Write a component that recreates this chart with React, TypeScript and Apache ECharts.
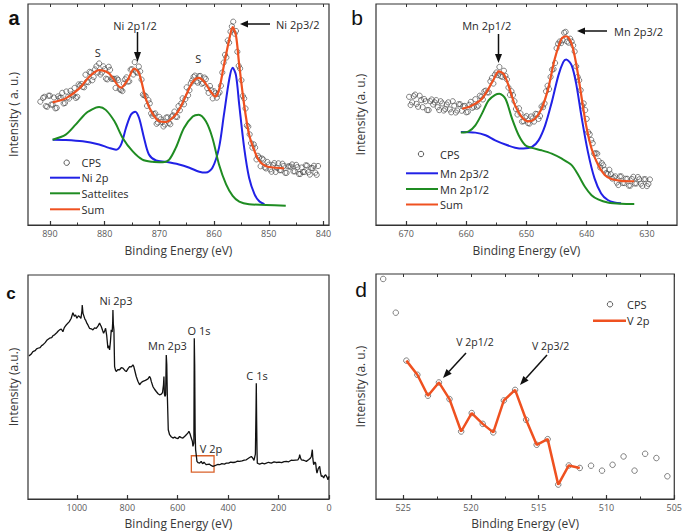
import { useEffect, useRef } from "react";
import * as echarts from "echarts";

const FONT = "'Open Sans', 'DejaVu Sans', sans-serif";
const LETTER_FONT = "'Liberation Sans', Arial, sans-serif";
const AXIS = "#333333";
const TICK_LABEL = "#5a5a5a";
const TXT = "#2a2a2a";
const BLUE = "#2121e6";
const GREEN = "#1f8c22";
const ORANGE = "#ef5120";
const CIRCLE = "#474747";

// ---------------- Panel a : Ni 2p ----------------
const aCpsE = [891,890.5,890,889.5,889,888.5,888,887.5,887,886.5,886,885.5,885,884.5,884,883.5,883,882.5,882,881.5,881,880.5,880,879.5,879,878.5,878,877.5,877,876.5,876,875.5,875,874.5,874,873.5,873,872.5,872,871.5,871,870.5,870,869.5,869,868.5,868,867.5,867,866.5,866,865.5,865,864.5,864,863.5,863,862.5,862,861.5,861,860.5,860,859.5,859,858.5,858,857.5,857,856.5,856,855.5,855,854.5,854,853.5,853,852.5,852,851.5,851,850.5,850,849.5,849,848.5,848,847.5,847,846.5,846,845.5,845,844.5,844,843.5,843,842.5,842,841.5,841];
const aCpsV = [58,53.5,58.5,54.5,52.8,58.2,57.6,55,60.4,57.2,59.1,62,58,63.1,62.5,68,64.6,69,67,71.8,73.1,69,70.5,65.9,70.2,66.2,62,65.6,61.1,64,66.8,65,70.5,73.7,68.9,69.5,59,58.3,56.5,50.5,50.2,45.8,48.9,46.6,45.5,48.7,45.6,49.6,49,53.8,55,54.6,62.3,61,65.4,67.6,64.4,67.4,64.3,66,59.8,61,60.5,57.6,60,69,77,83.5,87.5,92,87.8,72,65.5,57.3,45,41,35,35,31.3,26.6,29.6,25.6,27.3,24.1,28,25.9,24.8,27.7,23.6,26.5,26.4,24.3,27.2,23.1,26,24,26.9,22.8,25.8,23.7,26.7];
const aCps2E = [891.75,891.25,890.75,890.25,889.75,889.25,888.75,888.25,887.75,887.25,886.75,886.25,885.75,885.25,884.75,884.25,883.75,883.25,882.75,882.25,881.75,881.25,880.75,880.25,879.75,879.25,878.75,878.25,877.75,877.25,876.75,876.25,875.75,875.25,874.75,874.25,873.75,873.25,872.75,872.25,871.75,871.25,870.75,870.25,869.75,869.25,868.75,868.25,867.75,867.25,866.75,866.25,865.75,865.25,864.75,864.25,863.75,863.25,862.75,862.25,861.75,861.25,860.75,860.25,859.75,859.25,858.75,858.25,857.75,857.25,856.75,856.25,855.75,855.25,854.75,854.25,853.75,853.25,852.75,852.25,851.75,851.25,850.75,850.25,849.75,849.25,848.75,848.25,847.75,847.25,846.75,846.25,845.75,845.25,844.75,844.25,843.75,843.25,842.75,842.25,841.75,841.25];
const aCps2V = [55.8,57.5,53.8,58.5,54.5,57.7,53,57.4,59.8,55.2,57.8,60.7,58.6,57.5,63.6,63.8,62.3,64.8,69.3,65.5,70.4,69,68.1,71.8,66.2,71.6,66.2,66.1,66.3,61.4,60.6,65.9,64.9,70.3,68.1,69.3,71.7,65.8,58.7,53.9,55,49.4,50.5,46.4,47.8,44.6,48.6,46.2,49.1,51.3,48.9,51.9,57.3,57,58.7,64.2,67,65,67.4,63.9,66.7,61.9,62.9,57.3,59.6,59.3,63,73.5,75.8,82.5,89.9,86.6,78.4,70.8,58.4,52.7,44.5,37,36.5,29.7,30.5,30.1,26.1,28.5,25.2,27.1,24,27.9,24.8,26.7,23.6,26.5,27.4,24.3,26.2,23.1,24,27,23.9,25.8,26.8,22.7];
const aNiE = [889.5,887.1,884,881,879.2,877.9,877,876.1,875.2,874.4,873.7,872.8,871.9,870.6,868.8,866.4,864.5,862.7,861.5,860.3,859.1,858.2,857.2,856.6,856,855.4,854.5,853.6,852.6,851.7,850.8];
const aNiV = [38.6,38.5,37.9,36.4,34.9,34.1,36.4,43.9,49.9,51.3,48.4,39.4,31.9,29.2,28.6,27.4,25.9,24.1,23.7,25.9,34.9,49.9,66.3,71.1,67.8,54.3,34.9,21.4,13.9,10.6,9.4];
const aSatE = [889.5,887.1,885.3,883.4,881.6,881,879.8,878.2,876.7,874.9,873.1,871.3,869.4,868.2,867,865.5,863.9,862.8,861.5,860.3,859.1,857.8,856.6,855.4,853.6,850.5,846.9];
const aSatV = [38.6,40.9,45.4,50.6,53.1,53.4,52.1,46.9,39.4,33.4,29.6,28.6,28.4,29.6,34.9,43.9,49.1,49.9,46.9,39.4,27.4,18.4,13.2,10.6,9.4,9.1,8.7];
const aSumE = [889.5,887.1,884.6,882.8,881,879.2,877,875.8,874.6,873.7,872.5,871.3,870,868.8,867.6,866.4,865.1,863.9,862.8,861.8,860.6,859.8,859.1,858.2,857.2,856.6,856,855.4,854.5,853.6,852.6,851.7,850.5,848.7,847.2];
const aSumV = [55.5,57.3,61.8,67.1,70.1,68.6,62.1,65.6,70.8,68.6,57.3,50.6,46.9,46.6,48.4,52.1,58.8,64.8,66.6,64.8,60.3,58.1,61.1,72.3,84.3,89.5,85.8,72.3,54.3,40.9,33.4,28.9,26.6,25.9,25.6];
const aMajor = [890,880,870,860,850,840];
const aMinor = [885,875,865,855,845];

// ---------------- Panel b : Mn 2p ----------------
const bCpsE = [669.5,669,668.5,668,667.5,667,666.5,666,665.5,665,664.5,664,663.5,663,662.5,662,661.5,661,660.5,660,659.5,659,658.5,658,657.5,657,656.5,656,655.5,655,654.5,654,653.5,653,652.5,652,651.5,651,650.5,650,649.5,649,648.5,648,647.5,647,646.5,646,645.5,645,644.5,644,643.5,643,642.5,642,641.5,641,640.5,640,639.5,639,638.5,638,637.5,637,636.5,636,635.5,635,634.5,634,633.5,633,632.5,632,631.5,631,630.5,630,629.5];
const bCpsV = [58,55.5,59,53.5,56.5,57,52,56,54.5,56.5,52,55,52.5,55.5,51,54,51.8,54.6,53.7,51,54.4,53,56.9,54,58,60.5,60,65,64,69,71.5,67,67.5,62.2,60.5,56,50,50.5,47,49.3,45.9,48.2,50.3,48,53.6,55,63,67,70.5,80,83,83.6,87.4,82.5,83,78.5,67,61,55,48,41,37,32.5,29,28,25,23,23,21.5,19.2,22,19,20.9,17.8,20.8,18.8,21.7,18.7,20.7,17.6,20.6];
const bCps2E = [669.25,668.75,668.25,667.75,667.25,666.75,666.25,665.75,665.25,664.75,664.25,663.75,663.25,662.75,662.25,661.75,661.25,660.75,660.25,659.75,659.25,658.75,658.25,657.75,657.25,656.75,656.25,655.75,655.25,654.75,654.25,653.75,653.25,652.75,652.25,651.75,651.25,650.75,650.25,649.75,649.25,648.75,648.25,647.75,647.25,646.75,646.25,645.75,645.25,644.75,644.25,643.75,643.25,642.75,642.25,641.75,641.25,640.75,640.25,639.75,639.25,638.75,638.25,637.75,637.25,636.75,636.25,635.75,635.25,634.75,634.25,633.75,633.25,632.75,632.25,631.75,631.25,630.75,630.25,629.75];
const bCps2V = [54.3,58.3,54.8,58.5,53.3,56,52,56.8,55.5,53.3,56,51.8,54.5,52.3,56,50.9,54.7,51.7,53.9,51.2,55.7,53.5,53.5,58.5,56.8,60.8,60,66.5,68,67.8,67.3,69.8,65.9,58.9,58.8,52.5,52.8,46.8,48.7,46.1,49.1,46.8,50.2,49.3,53.3,60.5,61.5,70.3,73.3,82,82.3,87,83,84.3,81.3,71.8,65.5,54,52,42,38.5,32.3,32.3,26,27,23.5,25,21,22,18.1,22,19,20.9,17.8,21.8,18.8,20.7,17.7,20.7,18.6];
const bMn32E = [660.9,658.5,656.8,655.2,653.5,651.9,650.5,649.1,648,646.9,645.8,644.7,643.9,643.4,642.5,641.7,640.9,639.8,638.7,637.6,636.5,635.4,634.3];
const bMn32V = [42.1,41.8,40.6,38.3,36.4,35,34.6,35.3,38.3,45.1,55.6,67.7,73.7,74.9,72.2,63.2,49.6,33.1,21.1,14.3,11.3,10.2,9.8];
const bMn12E = [660.9,659.6,658.5,657.4,656.3,655.2,654.5,653.5,652.4,651.3,650.2,649.1,647.5,645.8,644.2,642.5,641.4,640.3,639.2,638.1,636.5,634.3,632.1];
const bMn12V = [41.8,42.4,45.1,50.4,56.4,58.9,59.4,57.1,48.1,40.6,36.1,34.9,33.8,32.3,30.1,27.1,22.6,17.3,13.5,11.6,10.2,9.6,9.5];
const bSumE = [660.7,659.6,658.5,657.4,656.3,655.4,654.6,653.8,653,651.9,650.8,649.7,648.6,647.5,646.4,645.3,644.2,643.4,642.5,641.7,640.9,640.1,639.2,638.1,637,635.9,634.3,632.1];
const bSumV = [52.6,53.4,54.9,57.1,61.7,66.2,69.5,68.4,63.2,54.1,48.9,46.9,48.1,52.6,61.7,75.2,84.2,85.4,82,72.2,58.6,45.1,34.6,27.1,22.6,20.8,20,19.8];
const bMajor = [670,660,650,640,630];
const bMinor = [665,655,645,635];

// ---------------- Panel c : survey ----------------
const cSurvey: [number, number][] = [
  [1190,63.9],[1182,64.6],[1174.6,65.8],[1166,66.2],[1160,67.0],[1154.8,67.3],[1146,67.6],[1140,68.5],[1134.9,68.8],[1126,69.8],
  [1118,71.0],[1108.5,71.8],[1100,72.0],[1094,73.0],[1088.6,73.3],[1080,74.2],[1074,75.0],[1068.8,75.5],[1062,75.9],[1055.6,74.7],
  [1050,76.5],[1042.3,77.7],[1035,78.6],[1030,79.2],[1022.5,80.7],[1015.9,83.2],[1010,81.6],[1005.3,82.2],[1000,80.7],[994,81.8],
  [989.4,81.4],[984,80.6],[980,84.0],[978.8,86.6],[976,83.0],[973.5,82.9],[968,80.2],[965.6,79.9],[960,78.4],[956.3,77.7],
  [950,76.2],[943,76.0],[936.5,75.5],[930,76.4],[923.3,76.2],[916,77.3],[910.1,78.5],[906,77.6],[903.4,77.0],[898,75.2],
  [894.2,74.0],[890,75.0],[886.2,76.2],[882,73.2],[877,67.3],[873,68.4],[870.4,66.6],[867,70.2],[863.8,75.5],[860,74.6],
  [858,79.0],[857.1,84.4],[855.5,78.0],[853.2,75.5],[851.5,65.0],[850.5,59.1],[847,57.5],[843.9,56.9],[838,57.8],[830.7,57.7],
  [824,58.6],[817.5,58.4],[810,57.4],[804.2,56.9],[797,58.2],[791,59.1],[784,59.0],[777.8,59.9],[774,59.0],[771.2,57.7],
  [764.6,54.7],[758,52.6],[751.3,51.0],[745,52.0],[738.1,52.5],[731,52.8],[724.9,53.2],[718,53.6],[711.6,54.7],[708,53.9],
  [705,52.5],[698.4,50.2],[692,49.0],[685.2,48.0],[678,47.0],[672,46.5],[665,46.8],[660.5,47.5],[658.7,47.3],[656.5,51.0],
  [654.8,54.7],[653,47.0],[650.8,45.8],[648,46.5],[645.5,64.3],[643.5,60.0],[641.5,47.3],[637.6,30.9],[632.3,28.7],[626,27.8],
  [619,27.2],[612,27.6],[605.8,27.2],[599,27.0],[592.6,27.9],[586,27.4],[579.4,27.2],[572,28.0],[566.1,28.7],[560,29.4],
  [555.6,30.2],[551,29.0],[546.3,27.2],[542,25.8],[539.7,23.5],[536,25.0],[534.4,71.8],[532.8,60.0],[531,30.0],[529.1,22.0],
  [526,19.0],[523.8,16.8],[519,16.2],[513.2,16.0],[507,16.8],[503,16.0],[500,15.8],[496,16.5],[491,15.8],[486.8,15.3],
  [475,15.6],[468,15.0],[460.3,14.6],[450,15.0],[442,15.4],[433.9,15.3],[425,15.8],[415,15.6],[407.4,16.0],[398,16.0],
  [390,16.5],[381,16.3],[372,16.4],[363,16.9],[354.5,16.8],[345,17.0],[336,17.4],[328,17.5],[318,18.3],[308.2,19.0],
  [302,18.2],[297.6,17.2],[292,20.0],[289.5,40.0],[288.4,51.7],[287,35.0],[285.6,22.0],[284.4,16.0],[280,15.8],[275.1,15.6],
  [265,16.0],[256,15.7],[248.7,16.0],[240,16.4],[229,16.0],[218,16.6],[209,16.3],[198,16.5],[188,16.2],[178,16.7],
  [169.3,16.8],[160,16.6],[150,17.3],[142.9,17.2],[133,17.4],[123,17.5],[118,18.6],[116.4,19.8],[113,18.4],[109.8,17.5],
  [100,17.3],[89.9,16.8],[80,17.6],[74,18.2],[70.1,19.0],[67.5,21.0],[66.1,22.0],[64,18.0],[60.8,15.3],[56,16.5],
  [52.9,16.0],[50,13.0],[47.6,11.6],[43,13.5],[37,14.6],[34,12.0],[30.4,10.1],[26,10.4],[21.2,9.4],[17,10.5],
  [13.2,10.8],[8,9.8],[4,8.6],[0,10.1],
];
const cBox = { e1: 546, e2: 456, v1: 19.3, v2: 12 };
const cMajor = [1000,800,600,400,200,0];

// ---------------- Panel d : V 2p ----------------
const dE = [526.47,525.54,524.76,523.95,523.17,522.36,521.58,520.72,519.94,519.13,518.35,517.57,516.74,515.93,515.15,514.34,513.56,512.78,511.97,511.14,510.33,509.55,508.74,507.93,507.15,506.32,505.51];
const dV = [97.8,82.8,61.5,55.2,45.9,51.8,44.4,30,38.2,33.4,29.6,43.8,48.5,35.2,24.1,26.6,6.4,14.9,13.8,14.8,12.6,15.2,18.9,12.6,20.1,18.2,10.1];
const dFitFrom = 2;
const dFitTo = 18;
const dMajor = [525,520,515,510,505];
const dMinor = [522.5,517.5,512.5,507.5];

const zip = (xs: number[], ys: number[]) => xs.map((x, i) => [x, ys[i]]);

const panels = [
  { grid: { left: 28, top: 4, width: 301, height: 221 }, min: 839, max: 894, major: aMajor, minor: aMinor, top: true, yName: "Intensity ( a. u.)" },
  { grid: { left: 376, top: 4, width: 301, height: 221 }, min: 625, max: 675, major: bMajor, minor: bMinor, top: true, yName: "Intensity (a. u.)" },
  { grid: { left: 28, top: 275, width: 301, height: 224 }, min: 0, max: 1194, major: cMajor, minor: null as number[] | null, top: false, yName: "Intensity (a.u.)" },
  { grid: { left: 376, top: 274, width: 301, height: 225 }, min: 505, max: 527, major: dMajor, minor: dMinor, top: true, yName: "Intensity (a. u.)" },
];

function T(text: string, x: number, y: number, size: number, opts: any = {}) {
  const align = opts.align || "center";
  return {
    type: "text",
    x,
    y,
    silent: true,
    style: {
      text,
      fill: opts.color || TXT,
      fontSize: size,
      fontFamily: opts.family || FONT,
      fontWeight: opts.weight || "normal",
      align,
      textAlign: align,
      verticalAlign: "middle",
      textVerticalAlign: "middle",
    },
  };
}
function L(x1: number, y1: number, x2: number, y2: number, color: string, w: number) {
  return { type: "line", silent: true, shape: { x1, y1, x2, y2 }, style: { stroke: color, lineWidth: w } };
}
function P(points: number[][], color: string) {
  return { type: "polygon", silent: true, shape: { points }, style: { fill: color } };
}
function C(cx: number, cy: number) {
  return { type: "circle", silent: true, shape: { cx, cy, r: 2.7 }, style: { fill: "none", stroke: CIRCLE, lineWidth: 0.9 } };
}

export default function App() {
  const ref = useRef<HTMLDivElement>(null);
  useEffect(() => {
    if (!ref.current) return;
    const chart = echarts.init(ref.current, undefined, { renderer: "svg" });

    const xAxis: any[] = [];
    const mainX: number[] = [];
    panels.forEach((p, gi) => {
      const nameGap = gi < 2 ? 19 : 18;
      mainX.push(xAxis.length);
      xAxis.push({
        type: "value", gridIndex: gi, min: p.min, max: p.max, inverse: true, position: "bottom",
        axisLine: { show: true, onZero: false, lineStyle: { color: AXIS, width: 1.2 } },
        axisTick: { show: true, inside: true, length: 4, customValues: p.major, lineStyle: { color: AXIS, width: 1.2 } },
        axisLabel: {
          show: true, customValues: p.major, fontSize: 9, color: TICK_LABEL, margin: 4, fontFamily: FONT,
          formatter: (v: number) => String(v),
        },
        splitLine: { show: false },
        name: "Binding Energy (eV)", nameLocation: "middle", nameGap,
        nameTextStyle: { fontSize: 12, color: "#383838", fontFamily: FONT },
      });
      if (p.minor) {
        xAxis.push({
          type: "value", gridIndex: gi, min: p.min, max: p.max, inverse: true, position: "bottom",
          axisLine: { show: false, onZero: false },
          axisTick: { show: true, inside: true, length: 2.5, customValues: p.minor, lineStyle: { color: AXIS, width: 1 } },
          axisLabel: { show: false }, splitLine: { show: false },
        });
      }
      if (p.top) {
        xAxis.push({
          type: "value", gridIndex: gi, min: p.min, max: p.max, inverse: true, position: "top",
          axisLine: { show: false, onZero: false },
          axisTick: { show: true, inside: true, length: 3, customValues: [...p.major, ...(p.minor || [])], lineStyle: { color: AXIS, width: 1 } },
          axisLabel: { show: false }, splitLine: { show: false },
        });
      }
    });

    const yAxis = panels.map((p, gi) => ({
      type: "value", gridIndex: gi, min: 0, max: 100,
      axisLine: { show: false }, axisTick: { show: false }, axisLabel: { show: false }, splitLine: { show: false },
      name: p.yName, nameLocation: "middle", nameGap: gi % 2 === 0 ? 9 : 10,
      nameTextStyle: { fontSize: 12, color: "#383838", fontFamily: FONT },
    }));

    const scatter = (gi: number, data: number[][], size = 5.2) => ({
      type: "scatter", xAxisIndex: mainX[gi], yAxisIndex: gi, data, symbol: "circle", symbolSize: size,
      itemStyle: { color: "rgba(255,255,255,0)", borderColor: CIRCLE, borderWidth: 0.85 },
      silent: true,
    });
    const curve = (gi: number, data: number[][], color: string, width = 2, smooth: any = 0.3) => ({
      type: "line", xAxisIndex: mainX[gi], yAxisIndex: gi, data, symbol: "none", showSymbol: false, smooth,
      lineStyle: { color, width }, itemStyle: { color }, silent: true,
    });

    const series: any[] = [
      scatter(0, zip(aCpsE, aCpsV)),
      scatter(0, zip(aCps2E, aCps2V)),
      curve(0, zip(aNiE, aNiV), BLUE),
      curve(0, zip(aSatE, aSatV), GREEN),
      curve(0, zip(aSumE, aSumV), ORANGE, 2.2),
      scatter(1, zip(bCpsE, bCpsV)),
      scatter(1, zip(bCps2E, bCps2V)),
      curve(1, zip(bMn32E, bMn32V), BLUE),
      curve(1, zip(bMn12E, bMn12V), GREEN),
      curve(1, zip(bSumE, bSumV), ORANGE, 2.2),
      {
        ...curve(2, cSurvey, "#111111", 1.3, false),
        markArea: {
          silent: true,
          itemStyle: { color: "rgba(0,0,0,0)", borderColor: "#d9622b", borderWidth: 1.3 },
          data: [[{ xAxis: cBox.e1, yAxis: cBox.v1 }, { xAxis: cBox.e2, yAxis: cBox.v2 }]],
        },
      },
      curve(3, zip(dE, dV).slice(dFitFrom, dFitTo + 1), ORANGE, 2.5, false),
      scatter(3, zip(dE, dV), 5.5),
    ];

    const graphic: any[] = [
      // panel a
      T("a", 14, 17.5, 20, { weight: "bold", family: LETTER_FONT, color: "#111" }),
      T("S", 97.7, 52.7, 11),
      T("Ni 2p1/2", 135, 25, 11),
      L(137.5, 32, 137.5, 54, "#111", 1.5),
      P([[134, 52], [141, 52], [137.5, 62]], "#111"),
      T("S", 198.3, 58.3, 11),
      L(270, 24, 248, 24, "#111", 1.5),
      P([[248, 20.5], [248, 27.5], [240, 24]], "#111"),
      T("Ni 2p3/2", 276, 24, 11, { align: "left" }),
      C(66.7, 162.7),
      T("CPS", 81.5, 162.7, 11, { align: "left" }),
      L(50, 177.7, 80, 177.7, BLUE, 2),
      T("Ni 2p", 81.5, 177.7, 11, { align: "left" }),
      L(50, 193.3, 80, 193.3, GREEN, 2),
      T("Sattelites", 81.5, 193.3, 11, { align: "left" }),
      L(50, 209.3, 80, 209.3, ORANGE, 2),
      T("Sum", 81.5, 209.3, 11, { align: "left" }),
      // panel b
      T("b", 357, 17, 21, { family: LETTER_FONT, color: "#111" }),
      T("Mn 2p1/2", 486.7, 25, 11),
      L(498.5, 34, 498.5, 55, "#111", 1.5),
      P([[495, 54], [502, 54], [498.5, 63]], "#111"),
      L(607, 31, 585, 31, "#111", 1.5),
      P([[585, 27.5], [585, 34.5], [577, 31]], "#111"),
      T("Mn 2p3/2", 614, 31, 11, { align: "left" }),
      C(421, 154),
      T("CPS", 440, 154, 11, { align: "left" }),
      L(406, 173.3, 438, 173.3, BLUE, 2),
      T("Mn 2p3/2", 440, 173.3, 11, { align: "left" }),
      L(406, 189, 438, 189, GREEN, 2),
      T("Mn 2p1/2", 440, 189, 11, { align: "left" }),
      L(406, 204.5, 438, 204.5, ORANGE, 2),
      T("Sum", 440, 204.5, 11, { align: "left" }),
      // panel c
      T("c", 11, 293.8, 17, { weight: "bold", family: LETTER_FONT, color: "#111" }),
      T("Ni 2p3", 116, 300, 11),
      T("Mn 2p3", 167.5, 345, 11),
      T("O 1s", 199, 330, 11),
      T("C 1s", 257, 375, 11),
      T("V 2p", 211, 448, 11),
      // panel d
      T("d", 361, 289, 21, { family: LETTER_FONT, color: "#111" }),
      T("V 2p1/2", 475, 341.7, 10.5),
      L(466, 353, 449, 371.4, "#111", 1.5),
      P([[451.7, 373.8], [446.5, 369], [443, 378]], "#111"),
      T("V 2p3/2", 550.7, 346, 10.5),
      L(547, 355, 526, 378.3, "#111", 1.5),
      P([[528.6, 380.6], [523.4, 376], [520, 385]], "#111"),
      C(610, 304.3),
      T("CPS", 627, 304.3, 11, { align: "left" }),
      L(593, 320.7, 626, 320.7, ORANGE, 2.5),
      T("V 2p", 627, 320.7, 11, { align: "left" }),
    ];

    chart.setOption({
      animation: false,
      backgroundColor: "#ffffff",
      grid: panels.map((p) => ({ ...p.grid, show: true, borderColor: AXIS, borderWidth: 1.2, backgroundColor: "transparent", containLabel: false })),
      xAxis,
      yAxis,
      series,
      graphic,
    });
    return () => chart.dispose();
  }, []);
  return (
    <div
      ref={ref}
      style={{ position: "fixed", left: 0, top: 0, width: 685, height: 531, background: "#fff" }}
    />
  );
}
